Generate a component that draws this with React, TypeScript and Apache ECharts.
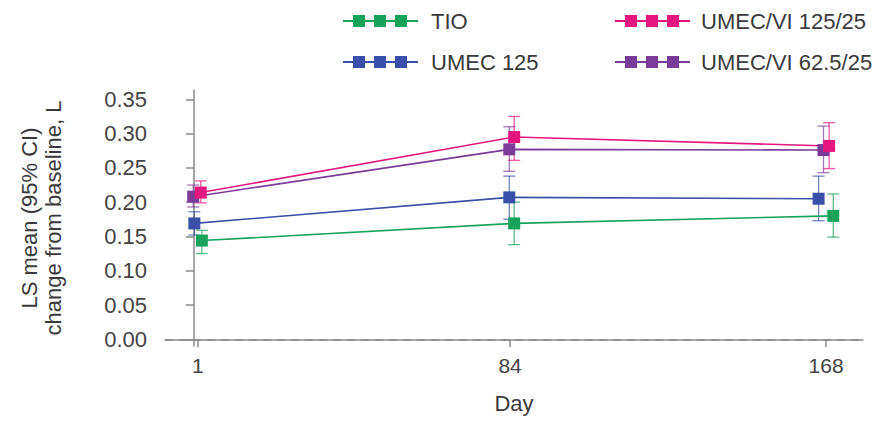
import React, { useEffect, useRef } from "react";
import * as echarts from "echarts";

const dayTicks = [1, 84, 168];
const yTicks = [0, 0.05, 0.1, 0.15, 0.2, 0.25, 0.3, 0.35];

const seriesNames = ["TIO", "UMEC 125", "UMEC/VI 62.5/25", "UMEC/VI 125/25"];
const seriesColors = ["#17a35b", "#3a4fa8", "#7b3c99", "#e5177f"];

// plotted x positions (days, slightly dodged as in the figure)
const tioX = [2.1, 85.1, 169.9];
const umecX = [0.1, 83.8, 166.0];
const umecVi62X = [-0.2, 83.8, 167.3];
const umecVi125X = [1.8, 85.1, 168.8];

const tioMean = [0.144, 0.169, 0.18];
const tioLow = [0.125, 0.138, 0.149];
const tioHigh = [0.159, 0.2, 0.212];

const umecMean = [0.169, 0.207, 0.205];
const umecLow = [0.152, 0.175, 0.173];
const umecHigh = [0.186, 0.238, 0.238];

const umecVi62Mean = [0.208, 0.277, 0.276];
const umecVi62Low = [0.193, 0.245, 0.243];
const umecVi62High = [0.225, 0.31, 0.311];

const umecVi125Mean = [0.214, 0.295, 0.282];
const umecVi125Low = [0.199, 0.261, 0.249];
const umecVi125High = [0.231, 0.325, 0.316];

const allX = [tioX, umecX, umecVi62X, umecVi125X];
const allMean = [tioMean, umecMean, umecVi62Mean, umecVi125Mean];
const allLow = [tioLow, umecLow, umecVi62Low, umecVi125Low];
const allHigh = [tioHigh, umecHigh, umecVi62High, umecVi125High];

const FONT = "'Liberation Sans', Arial, sans-serif";
const legendIcon =
  "path://M0,5h75v2h-75z M10,0h12v12h-12z M31,0h12v12h-12z M52,0h12v12h-12z";

export default function App() {
  const ref = useRef<HTMLDivElement>(null);

  useEffect(() => {
    document.body.style.margin = "0";
    if (!ref.current) return;
    const chart = echarts.init(ref.current, undefined, { renderer: "svg" });

    const errorSeries = seriesNames.map((name, i) => ({
      type: "custom",
      name: name + " CI",
      z: 1,
      silent: true,
      encode: { x: 0, y: [1, 2] },
      data: allX[i].map((x, j) => [x, allLow[i][j], allHigh[i][j]]),
      renderItem: (params: any, api: any) => {
        const x = api.value(0);
        const lo = api.coord([x, api.value(1)]);
        const hi = api.coord([x, api.value(2)]);
        const w = 6;
        const style = { stroke: seriesColors[i], lineWidth: 1.3, opacity: 0.7 };
        return {
          type: "group",
          children: [
            { type: "line", shape: { x1: lo[0], y1: lo[1], x2: hi[0], y2: hi[1] }, style },
            { type: "line", shape: { x1: lo[0] - w, y1: lo[1], x2: lo[0] + w, y2: lo[1] }, style },
            { type: "line", shape: { x1: hi[0] - w, y1: hi[1], x2: hi[0] + w, y2: hi[1] }, style },
          ],
        };
      },
    }));

    const lineSeries = seriesNames.map((name, i) => ({
      type: "line",
      name,
      z: 3,
      data: allX[i].map((x, j) => [x, allMean[i][j]]),
      symbol: "rect",
      symbolSize: 12,
      itemStyle: { color: seriesColors[i] },
      lineStyle: { color: seriesColors[i], width: 1.6 },
      ...(i === 0
        ? {
            markLine: {
              silent: true,
              symbol: "none",
              label: { show: false },
              lineStyle: { color: "#8a8a8a", type: [8, 6], width: 1.5 },
              data: [{ yAxis: 0 }],
            },
          }
        : {}),
    }));

    chart.setOption({
      animation: false,
      textStyle: { fontFamily: FONT },
      grid: { left: 165, right: 12, top: 90, bottom: 78 },
      legend: [
        {
          left: 343,
          top: 10,
          orient: "vertical",
          padding: 0,
          itemGap: 19,
          itemWidth: 75,
          itemHeight: 12,
          textStyle: { fontSize: 22, color: "#3a3a3a", fontFamily: FONT, padding: [0, 0, 0, 8] },
          data: [
            { name: "TIO", icon: legendIcon },
            { name: "UMEC 125", icon: legendIcon },
          ],
        },
        {
          left: 615,
          top: 10,
          orient: "vertical",
          padding: 0,
          itemGap: 19,
          itemWidth: 75,
          itemHeight: 12,
          textStyle: { fontSize: 22, color: "#3a3a3a", fontFamily: FONT, padding: [0, 0, 0, 6] },
          data: [
            { name: "UMEC/VI 125/25", icon: legendIcon },
            { name: "UMEC/VI 62.5/25", icon: legendIcon },
          ],
        },
      ],
      xAxis: {
        type: "value",
        min: -7.7,
        max: 177.8,
        name: "Day",
        nameLocation: "middle",
        nameGap: 46,
        nameTextStyle: { fontSize: 22, color: "#3a3a3a", fontFamily: FONT },
        axisLine: { show: true, lineStyle: { color: "#8a8a8a", width: 1.5 } },
        axisTick: { show: true, length: 8, customValues: dayTicks, lineStyle: { color: "#8a8a8a", width: 1.5 } },
        axisLabel: { customValues: dayTicks, fontSize: 21, color: "#444", margin: 9, fontFamily: FONT },
        splitLine: { show: false },
      },
      yAxis: {
        type: "value",
        min: -0.0098,
        max: 0.3636,
        name: "LS mean (95% CI)\nchange from baseline, L",
        nameLocation: "middle",
        nameRotate: 90,
        nameGap: 100,
        nameTextStyle: { fontSize: 22, color: "#3a3a3a", lineHeight: 24, fontFamily: FONT },
        axisLine: { show: true, lineStyle: { color: "#8a8a8a", width: 1.5 } },
        axisTick: { show: true, length: 8, customValues: yTicks, lineStyle: { color: "#8a8a8a", width: 1.5 } },
        axisLabel: {
          customValues: yTicks,
          fontSize: 22,
          color: "#444",
          margin: 18,
          fontFamily: FONT,
          formatter: (v: number) => v.toFixed(2),
        },
        splitLine: { show: false },
      },
      series: [...errorSeries, ...lineSeries],
    });

    return () => chart.dispose();
  }, []);

  return <div ref={ref} style={{ width: 875, height: 424 }} />;
}
